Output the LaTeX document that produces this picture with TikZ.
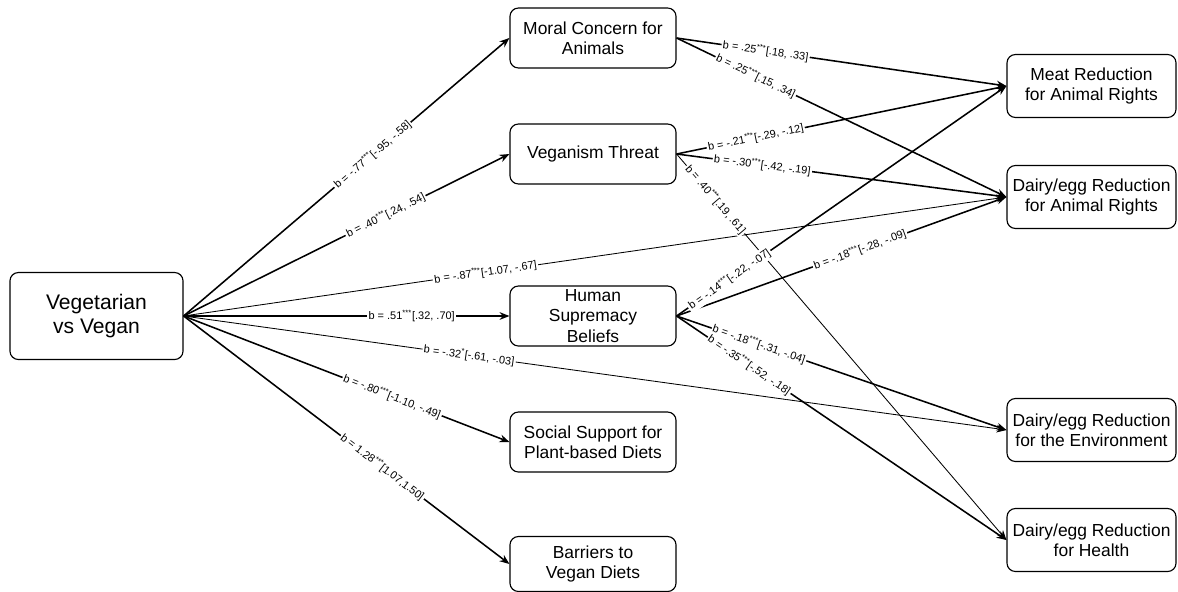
\documentclass[tikz,border=0pt]{standalone}
\usepackage{fontspec}
\setmainfont{Liberation Sans}
\usetikzlibrary{arrows.meta}

\tikzset{
  box/.style={draw, rounded corners=6pt, line width=0.8pt, align=center, inner sep=0pt,
    font=\fontsize{12.4}{14.5}\selectfont},
  medbox/.style={box, minimum width=4.15cm, minimum height=1.5cm},
  outbox/.style={box, minimum width=4.225cm, minimum height=1.575cm},
  lnk/.style={line width=1.1pt, -{Stealth[length=7pt,width=5.5pt]}},
  thinlnk/.style={lnk, line width=0.6pt},
  coef/.style={sloped, fill=white, inner sep=1pt, font=\fontsize{7.8}{9}\selectfont}
}
\newcommand{\sig}[1]{\textsuperscript{#1}}

\begin{document}
\begin{tikzpicture}[x=0.025cm, y=-0.025cm]
  \useasboundingbox (0,0) rectangle (1178,592);

  % predictor
  \node[box, minimum width=4.325cm, minimum height=2.175cm, font=\fontsize{15}{17.7}\selectfont] (vv) at (96.5,316) {Vegetarian\\vs Vegan};

  % mediators
  \node[medbox] (mc) at (593,38) {Moral Concern for\\Animals};
  \node[medbox] (vt) at (593,154) {Veganism Threat};
  \node[medbox] (hs) at (593,316) {Human\\Supremacy\\Beliefs};
  \node[medbox] (ss) at (593,442) {Social Support for\\Plant-based Diets};
  \node[medbox, minimum height=1.375cm] (br) at (593,564) {Barriers to\\Vegan Diets};

  % outcomes
  \node[outbox] (mar) at (1091.5,86) {Meat Reduction\\for Animal Rights};
  \node[outbox] (dar) at (1091.5,197) {Dairy/egg Reduction\\for Animal Rights};
  \node[outbox] (env) at (1091.5,430) {Dairy/egg Reduction\\for the Environment};
  \node[outbox] (hea) at (1091.5,540) {Dairy/egg Reduction\\for Health};

  % paths
  \foreach \a/\b/\s in {vv/mc/lnk, vv/vt/lnk, vv/dar/thinlnk, vv/hs/lnk, vv/env/thinlnk, vv/ss/lnk, vv/br/lnk,
      mc/mar/lnk, mc/dar/lnk, vt/mar/lnk, vt/dar/lnk, vt/hea/thinlnk,
      hs/mar/lnk, hs/dar/lnk, hs/env/lnk, hs/hea/lnk}
    \draw[\s] (\a.east) -- (\b.west);

  % coefficients on top of all lines
  \foreach \a/\b/\p/\t in {
      vv/mc/0.58/{b = -.77\sig{***}[-.95, -.58]},
      vv/vt/0.62/{b = .40\sig{***}[.24, .54]},
      vv/dar/0.367/{b = -.87\sig{***}[-1.07, -.67]},
      vv/hs/0.70/{b = .51\sig{***}[.32, .70]},
      vv/env/0.347/{b = -.32\sig{*}[-.61, -.03]},
      vv/ss/0.64/{b = -.80\sig{***}[-1.10, -.49]},
      vv/br/0.61/{b = 1.28\sig{***}[1.07,1.50]},
      mc/mar/0.27/{b = .25\sig{***}[.18, .33]},
      mc/dar/0.24/{b = .25\sig{***}[.15, .34]},
      vt/mar/0.24/{b = -.21\sig{***}[-.29, -.12]},
      vt/dar/0.26/{b = -.30\sig{***}[-.42, -.19]},
      vt/hea/0.118/{b = .40\sig{***}[.19, .61]},
      hs/mar/0.16/{b = -.14\sig{***}[-.22, -.07]},
      hs/dar/0.556/{b = -.18\sig{***}[-.28, -.09]},
      hs/env/0.25/{b = -.18\sig{***}[-.31, -.04]},
      hs/hea/0.22/{b = -.35\sig{***}[-.52, -.18]}}
    \path (\a.east) -- (\b.west) node[coef, pos=\p] {\t};
\end{tikzpicture}
\end{document}
